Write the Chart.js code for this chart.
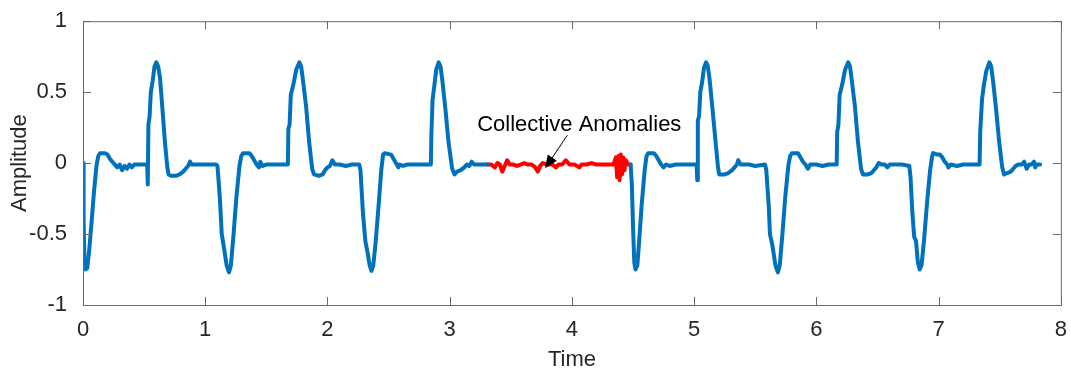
<!DOCTYPE html>
<html>
<head>
<meta charset="utf-8">
<script src="https://cdn.jsdelivr.net/npm/chart.js@4/dist/chart.umd.min.js"></script>
<style>
  html, body { margin: 0; padding: 0; background: #fff; }
  #wrap { width: 1071px; height: 370px; }
</style>
</head>
<body>
<div id="wrap"><canvas id="lineChart"></canvas></div>
<script>
// --- data ---
const timeA = [0.00,0.005,0.012,0.02,0.035,0.05,0.07,0.09,0.11,0.125,0.14,0.18,0.20,0.22,0.24,0.26,0.28,0.30,0.32,0.34,0.36,0.38,0.40,0.42,0.45,0.50,0.525,0.53,0.535,0.545,0.555,0.57,0.585,0.60,0.615,0.63,0.65,0.67,0.69,0.70,0.72,0.76,0.79,0.82,0.84,0.86,0.875,0.89,0.95,1.00,1.05,1.09,
  1.10,1.12,1.135,1.15,1.175,1.195,1.21,1.23,1.255,1.28,1.295,1.31,1.36,1.38,1.40,1.42,1.44,1.45,1.47,1.50,1.55,1.60,1.676,1.68,1.69,1.70,1.72,1.745,1.77,1.785,1.80,1.825,1.85,1.875,1.89,1.93,1.96,1.98,2.00,2.02,2.04,2.06,2.10,2.15,2.20,2.26,
  2.27,2.29,2.31,2.33,2.345,2.36,2.375,2.395,2.42,2.44,2.455,2.47,2.52,2.54,2.56,2.58,2.59,2.62,2.65,2.70,2.75,2.80,2.846,2.85,2.86,2.875,2.89,2.91,2.925,2.94,2.965,2.99,3.02,3.04,3.06,3.09,3.12,3.14,3.16,3.18,3.20,3.25,3.31];
const ampA = [0.00,-0.40,-0.70,-0.75,-0.74,-0.62,-0.42,-0.20,-0.02,0.05,0.07,0.07,0.06,0.03,0.01,-0.01,-0.03,-0.01,-0.05,-0.02,-0.04,-0.01,-0.03,-0.01,-0.01,-0.01,-0.01,-0.15,0.27,0.33,0.50,0.58,0.68,0.71,0.68,0.60,0.38,0.15,-0.03,-0.08,-0.09,-0.09,-0.08,-0.06,-0.04,-0.02,0.01,-0.01,-0.01,-0.01,-0.01,-0.01,
  -0.02,-0.25,-0.50,-0.58,-0.72,-0.77,-0.72,-0.52,-0.24,-0.02,0.05,0.07,0.07,0.05,0.02,-0.01,-0.03,0.01,-0.02,-0.01,-0.01,-0.01,-0.01,0.24,0.27,0.48,0.55,0.66,0.71,0.68,0.58,0.40,0.15,-0.04,-0.08,-0.09,-0.08,-0.05,-0.03,-0.02,0.02,-0.01,-0.01,-0.02,-0.01,-0.01,
  -0.05,-0.35,-0.55,-0.64,-0.72,-0.76,-0.72,-0.55,-0.28,-0.05,0.06,0.07,0.06,0.03,0.00,-0.03,-0.01,-0.02,-0.01,-0.01,-0.01,-0.01,-0.01,0.20,0.45,0.55,0.66,0.71,0.68,0.58,0.38,0.15,-0.04,-0.08,-0.06,-0.05,-0.03,-0.01,-0.02,0.01,-0.01,-0.01,-0.01];

// anomaly segment (red)
const timeAnom = [3.31,3.34,3.37,3.39,3.41,3.43,3.45,3.47,3.49,3.52,3.55,3.58,3.61,3.64,3.67,3.70,3.72,3.74,3.76,3.80,3.84,3.87,3.89,3.92,3.95,3.98,4.02,4.06,4.08,4.12,4.16,4.20,4.25,4.30,4.34,4.36,4.37,4.38,4.39,4.40,4.41,4.42,4.43,4.44,4.46,4.48];
const ampAnom = [-0.01,-0.01,-0.03,0.00,-0.01,-0.06,-0.02,0.02,-0.01,-0.01,-0.02,-0.01,0.00,-0.01,-0.01,-0.03,-0.06,-0.02,0.00,-0.01,-0.01,-0.03,-0.01,-0.01,0.02,-0.01,-0.01,-0.03,-0.01,-0.01,0.00,-0.01,-0.01,-0.01,-0.01,0.04,-0.10,0.05,-0.12,0.06,-0.08,0.04,-0.05,0.02,-0.01,-0.01];

const timeB = [4.48,4.49,4.50,4.51,4.52,4.535,4.55,4.57,4.595,4.61,4.625,4.67,4.69,4.71,4.73,4.75,4.77,4.80,4.85,4.90,4.95,5.02,5.025,5.03,5.04,5.05,5.065,5.08,5.097,5.11,5.125,5.15,5.175,5.195,5.205,5.25,5.28,5.31,5.33,5.35,5.36,5.38,5.45,5.50,5.58,
  5.59,5.61,5.62,5.64,5.665,5.685,5.70,5.72,5.745,5.77,5.785,5.80,5.85,5.87,5.89,5.91,5.93,5.95,6.00,6.05,6.10,6.166,6.17,6.18,6.19,6.21,6.235,6.26,6.275,6.29,6.315,6.34,6.365,6.38,6.42,6.45,6.47,6.49,6.51,6.53,6.56,6.58,6.60,6.65,6.70,6.76,
  6.77,6.785,6.80,6.815,6.83,6.845,6.86,6.88,6.905,6.93,6.945,6.955,6.99,7.01,7.03,7.05,7.07,7.08,7.10,7.15,7.20,7.25,7.30,7.335,7.34,7.355,7.37,7.39,7.415,7.43,7.445,7.47,7.495,7.52,7.535,7.56,7.59,7.61,7.63,7.65,7.68,7.70,7.72,7.74,7.76,7.78,7.79,7.80,7.83];
const ampB = [-0.01,-0.15,-0.45,-0.70,-0.75,-0.72,-0.55,-0.30,-0.05,0.05,0.07,0.07,0.05,0.02,-0.01,-0.03,-0.01,-0.02,-0.01,-0.01,-0.01,-0.01,-0.12,0.30,0.33,0.50,0.57,0.67,0.71,0.69,0.60,0.38,0.15,-0.03,-0.08,-0.08,-0.07,-0.05,-0.03,-0.01,0.02,-0.01,-0.01,-0.02,-0.01,
  -0.05,-0.30,-0.50,-0.58,-0.72,-0.77,-0.72,-0.52,-0.24,-0.02,0.05,0.07,0.07,0.04,0.01,-0.01,-0.04,-0.01,-0.01,-0.02,-0.01,-0.01,0.22,0.27,0.48,0.55,0.66,0.71,0.68,0.58,0.40,0.15,-0.04,-0.08,-0.08,-0.07,-0.05,-0.03,0.00,-0.01,-0.01,-0.03,-0.01,-0.01,-0.01,-0.02,
  -0.10,-0.35,-0.52,-0.55,-0.70,-0.75,-0.72,-0.55,-0.28,-0.05,0.04,0.07,0.06,0.06,0.04,0.01,-0.01,-0.03,-0.01,-0.02,-0.01,-0.01,-0.01,-0.01,0.22,0.45,0.55,0.65,0.71,0.68,0.58,0.38,0.15,-0.03,-0.08,-0.07,-0.06,-0.04,-0.02,-0.01,-0.01,0.01,-0.04,-0.01,-0.01,0.01,-0.03,-0.01,-0.01];

const xTicks = [0,1,2,3,4,5,6,7,8];
const yTicks = [-1,-0.5,0,0.5,1];
const annotationText = 'Collective Anomalies';

const toPts = (t, a) => t.map((v, i) => ({ x: v, y: a[i] }));

const blue = '#0072BD';
const fontFamily = '"Liberation Sans", Arial, sans-serif';
const tickFont = { family: fontFamily, size: 22 };
const labelFont = { family: fontFamily, size: 22 };

// MATLAB style box with inward ticks on all four sides
const boxPlugin = {
  id: 'box',
  afterDatasetsDraw(chart) {
    const { ctx, chartArea: a, scales } = chart;
    ctx.save();
    ctx.strokeStyle = '#6a6a6a';
    ctx.lineWidth = 1;
    ctx.strokeRect(a.left + 0.5, a.top + 0.5, a.right - a.left, a.bottom - a.top);
    const len = 8;
    ctx.beginPath();
    xTicks.forEach(v => {
      const px = Math.round(scales.x.getPixelForValue(v)) + 0.5;
      ctx.moveTo(px, a.bottom); ctx.lineTo(px, a.bottom - len);
      ctx.moveTo(px, a.top); ctx.lineTo(px, a.top + len);
    });
    yTicks.forEach(v => {
      const py = Math.round(scales.y.getPixelForValue(v)) + 0.5;
      ctx.moveTo(a.left, py); ctx.lineTo(a.left + len, py);
      ctx.moveTo(a.right, py); ctx.lineTo(a.right - len, py);
    });
    ctx.stroke();

    // annotation text + arrow
    const tx = scales.x.getPixelForValue(4.06);
    const ty = scales.y.getPixelForValue(0.227);
    ctx.fillStyle = '#000';
    ctx.font = '22px ' + fontFamily;
    ctx.textAlign = 'center';
    ctx.textBaseline = 'alphabetic';
    ctx.fillText(annotationText, tx, ty);

    const x0 = scales.x.getPixelForValue(3.962), y0 = scales.y.getPixelForValue(0.196);
    const x1 = scales.x.getPixelForValue(3.78), y1 = scales.y.getPixelForValue(-0.037);
    const ang = Math.atan2(y1 - y0, x1 - x0);
    ctx.strokeStyle = '#000';
    ctx.lineWidth = 1;
    ctx.beginPath();
    ctx.moveTo(x0, y0); ctx.lineTo(x1 - 10 * Math.cos(ang), y1 - 10 * Math.sin(ang));
    ctx.stroke();
    ctx.beginPath();
    ctx.moveTo(x1, y1);
    ctx.lineTo(x1 - 13 * Math.cos(ang) + 5.5 * Math.sin(ang), y1 - 13 * Math.sin(ang) - 5.5 * Math.cos(ang));
    ctx.lineTo(x1 - 13 * Math.cos(ang) - 5.5 * Math.sin(ang), y1 - 13 * Math.sin(ang) + 5.5 * Math.cos(ang));
    ctx.closePath();
    ctx.fill();
    ctx.restore();
  }
};

const lineStyle = { showLine: true, pointRadius: 0, borderWidth: 4, tension: 0, fill: false, borderJoinStyle: 'round', borderCapStyle: 'round' };

new Chart(document.getElementById('lineChart'), {
  type: 'scatter',
  data: {
    datasets: [
      { label: 'signal', data: toPts(timeA, ampA), borderColor: blue, ...lineStyle },
      { label: 'signal', data: toPts(timeB, ampB), borderColor: blue, ...lineStyle },
      { label: 'anomaly', data: toPts(timeAnom, ampAnom), borderColor: '#ff0000', ...lineStyle }
    ]
  },
  options: {
    responsive: true,
    maintainAspectRatio: false,
    animation: false,
    layout: { padding: { left: 0, right: 9, top: 20, bottom: 0 } },
    plugins: { legend: { display: false }, tooltip: { enabled: false } },
    scales: {
      x: {
        type: 'linear', min: 0, max: 8,
        afterFit: s => { s.height = 65; },
        afterBuildTicks: s => { s.ticks = xTicks.map(v => ({ value: v })); },
        grid: { display: false },
        border: { display: false },
        ticks: { color: '#262626', font: tickFont, padding: 4, maxRotation: 0, callback: v => String(v) },
        title: { display: true, text: 'Time', color: '#262626', font: labelFont, padding: { top: 0, bottom: -3 } }
      },
      y: {
        min: -1, max: 1,
        afterFit: s => { s.width = 83; },
        afterBuildTicks: s => { s.ticks = yTicks.map(v => ({ value: v })); },
        grid: { display: false },
        border: { display: false },
        ticks: { color: '#262626', font: tickFont, padding: 8, callback: v => String(v) },
        title: { display: true, text: 'Amplitude', color: '#262626', font: labelFont, padding: { top: 7, bottom: 0 } }
      }
    }
  },
  plugins: [boxPlugin]
});
</script>
</body>
</html>
